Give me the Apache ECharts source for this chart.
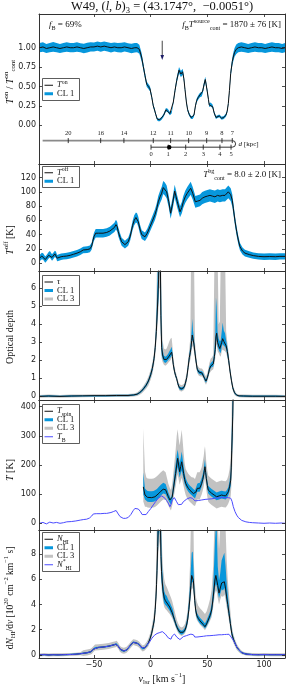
<!DOCTYPE html>
<html><head><meta charset="utf-8">
<script src="https://cdn.jsdelivr.net/npm/echarts@6/dist/echarts.min.js"></script>
<style>html,body{margin:0;padding:0;background:#fff}#c{width:287px;height:688px}</style>
</head><body><div id="c"></div>
<script>
// ---------------- DATA ----------------
// Panel 1: T_on / T_on_cont
const vel1 = [-98,-95,-92,-89,-86,-83,-80,-77,-74,-71,-68,-65,-62,-59,-56,-53,-50,-47,-44,-41,
 -38,-35,-32,-29,-26,-23,-20,-17,-14,-12,-10,-8,-6.5,-5,-3.5,-2,-0.6,1,2.3,3.2,
 4.5,5.8,6.7,8,9.7,11.5,13.5,15,17,18.5,20,21.5,23,25,26.7,28.2,29.3,30.3,31.5,32.6,
 34,35.6,37,38.2,39.5,40.6,42,43.5,45,45.9,47,48.2,49,50,51,51.7,53,54.7,56,57.6,
 59,60.5,62.6,64.5,66.4,67.5,68.5,69.5,70.6,72,72.9,74,75.5,77.3,80,83,86,89,92,95,
 98,101,104,107,110,113,116,118.5];
const tOn = [1.00,1.01,0.99,1.00,1.01,1.00,0.99,1.00,1.01,1.00,
 1.00,1.01,1.00,0.99,1.00,1.01,1.01,1.02,1.01,1.02,
 1.01,1.00,1.01,1.00,1.00,1.01,1.00,0.99,1.00,1.00,
 0.98,0.88,0.76,0.64,0.53,0.50,0.47,0.36,0.25,0.21,
 0.14,0.08,0.07,0.07,0.09,0.13,0.20,0.19,0.15,0.17,
 0.30,0.45,0.58,0.71,0.66,0.69,0.60,0.46,0.30,0.20,
 0.14,0.10,0.10,0.13,0.25,0.32,0.36,0.39,0.40,0.44,
 0.52,0.59,0.52,0.43,0.33,0.26,0.27,0.24,0.16,0.10,
 0.11,0.12,0.09,0.10,0.13,0.18,0.28,0.45,0.67,0.82,
 0.88,0.94,0.98,1.00,1.01,1.00,0.99,1.00,1.01,1.00,
 1.00,0.99,1.00,1.01,1.00,1.00,0.99,1.00];
const tOnErr = [0.06,0.062,0.058,0.06,0.063,0.06,0.058,0.06,0.062,0.06,
 0.06,0.062,0.058,0.06,0.063,0.06,0.058,0.06,0.062,0.06,
 0.06,0.062,0.058,0.06,0.063,0.06,0.058,0.06,0.062,0.06,
 0.058,0.053,0.045,0.040,0.035,0.033,0.032,0.028,0.024,0.022,
 0.020,0.018,0.018,0.018,0.018,0.020,0.022,0.022,0.020,0.020,
 0.025,0.030,0.035,0.040,0.040,0.040,0.036,0.030,0.025,0.022,
 0.020,0.018,0.018,0.020,0.024,0.026,0.028,0.030,0.030,0.032,
 0.034,0.036,0.034,0.030,0.027,0.024,0.024,0.023,0.020,0.018,
 0.018,0.018,0.018,0.018,0.020,0.022,0.026,0.033,0.045,0.052,
 0.055,0.058,0.060,0.060,0.062,0.060,0.058,0.060,0.062,0.060,
 0.060,0.058,0.060,0.062,0.060,0.060,0.058,0.060];

// Kinematic distance axis (velocity of each distance tick)
const farDist = [20,16,14,12,11,10,9,8,7];
const farVel = [-72.7,-44.1,-23.6,2.3,17.6,33.5,49.4,62.9,72.0];
const nearDist = [0,1,2,3,4,5];
const nearVel = [0.3,15.5,30.9,46.4,61.1,70.9];
const farStartVel = -95.3;
const farAxisY = -0.198, nearAxisY = -0.283;
const sourceVel = 16.4;
const arrowVel = 10.2, arrowTop = 1.09, arrowTip = 0.84;

// Panel 2: T_off
const vel2 = [-98,-96,-94.8,-93,-91.8,-90,-88.9,-87,-85.9,-84.5,
 -83.6,-82.5,-81.5,-79,-77,-74,-71,-68,-65,-62,
 -59.5,-56,-53.6,-52,-51.2,-50,-48.5,-46,-44.7,-42,
 -38.8,-36,-34.4,-32,-30.6,-29.5,-28.6,-27,-25.6,-22.7,
 -19.8,-18,-15.9,-14.5,-13,-12,-10.9,-9.5,-7.9,-5,
 -3,-0.6,1.5,3.8,5.3,6.7,8.3,9.7,11.1,12.5,
 14.1,16,17.6,19.4,21.2,23.5,25.9,27.5,28.8,30.5,
 32.3,35.3,37.1,39.4,41.5,43.5,45.5,47.9,50,52.3,
 54.5,56.7,59,61.1,63.5,65.6,68.5,70.6,72,72.9,
 74.5,75.9,77.5,78.8,81,83.2,87,90.5,95,100,
 105,110,114,118.5];
const tOff = [7,10,9.3,5,7,11,12.5,8,10,13,
 12,7,7.5,9,9.5,10,11,12.5,14,16,
 18.5,19,20,24,30,37,42,42,42,42,
 43,45,47,50,54,51,44,36,30,26,
 30,38,53,60,64,63,58,48,40,37,
 42,51,59,68,76,86,93,98,106,104,
 100,86,70,84,101,86,72,78,86,93,
 98,105,98,86,87,88,91,93,94,95,
 94,93,95,94,95,95,100,96,88,77,
 58,44,31,23,17,14,12,10.6,9.5,9,
 9.3,9,9.5,9.5];
const tOffErr = [4.5,4.5,4.5,4.5,4.5,4.5,4.5,4.5,4.5,4.5,
 4.5,4.5,4.5,4.5,4.5,4.5,4.5,4.5,4.5,4.5,
 4.6,4.7,4.8,5,5.3,5.7,6,6,6,6,
 6,6.1,6.3,6.5,6.7,6.6,6.3,5.8,5.5,5.3,
 5.5,6,6.6,7,7.1,7.1,7,6.5,6,5.8,
 6.1,6.6,7,7.4,7.8,8.2,8.5,8.7,9,9,
 8.9,8.3,7.6,8.3,8.9,8.3,7.6,7.9,8.3,8.6,
 8.9,9,8.9,8.3,8.3,8.3,8.6,8.6,8.7,8.7,
 8.7,8.7,8.7,8.7,8.7,8.7,9,8.9,8.6,7.9,
 7.1,6.4,5.8,5.3,5,4.8,4.6,4.5,4.5,4.5,
 4.5,4.5,4.5,4.5];

// Panel 3: optical depth
const vel3 = [-98,-90,-80,-70,-60,-50,-40,-30,-20,-15,
 -12,-10,-8,-6,-4,-2,0,1.5,3,4,
 5,6,7,7.5,8,8.5,9,9.7,10.5,11.7,
 13,14.1,15.3,16.4,17.5,18.5,19.2,19.9,21,22,
 22.9,24,25.3,26.3,27.4,28.4,29.4,30.5,31.8,33,
 34.1,35,35.6,36.2,36.7,37.3,38.2,39.1,40,41.1,
 42.5,44.1,45.2,46.4,47.5,48.8,49.8,50.8,51.8,52.9,
 54,55.2,56.2,57,57.6,58.2,59,60,61,61.8,
 62.7,63.5,64.5,65.6,66.6,67.6,68.8,70,71.2,72.4,
 74,75.9,78,82,90,100,110,118.5];
const tau = [0.00,0.02,0.00,0.02,0.03,0.04,0.04,0.05,0.05,0.08,
 0.12,0.20,0.30,0.45,0.62,0.85,1.20,1.55,2.10,2.70,
 3.60,4.90,6.50,9.00,9.00,8.00,4.50,2.70,2.30,2.05,
 2.00,2.05,2.15,2.24,2.30,2.45,2.20,1.78,1.40,1.15,
 1.00,0.70,0.48,0.44,0.42,0.46,0.50,0.70,1.03,1.60,
 2.15,2.45,2.70,3.10,3.40,3.20,2.90,2.40,1.96,1.50,
 1.35,1.30,1.30,1.20,1.00,0.85,1.00,1.22,1.50,1.68,
 1.75,1.80,2.20,2.60,3.30,3.50,3.00,2.80,2.65,2.60,
 3.00,3.20,3.05,3.00,2.80,2.50,2.00,1.40,0.90,0.48,
 0.20,0.07,0.03,0.02,0.01,0.01,0.01,0.00];
const tauCL1Dn = [0.04,0.04,0.04,0.04,0.04,0.04,0.04,0.04,0.04,0.04,
 0.04,0.05,0.06,0.07,0.08,0.10,0.12,0.14,0.16,0.20,
 0.30,0.50,1.00,2.00,2.00,2.00,1.00,0.40,0.20,0.15,
 0.15,0.15,0.15,0.15,0.15,0.15,0.15,0.12,0.10,0.08,
 0.08,0.08,0.08,0.08,0.08,0.08,0.08,0.10,0.10,0.12,
 0.15,0.15,0.20,0.20,0.25,0.20,0.15,0.15,0.12,0.10,
 0.10,0.10,0.10,0.10,0.10,0.10,0.10,0.10,0.12,0.12,
 0.12,0.15,0.20,0.25,0.30,0.30,0.25,0.20,0.20,0.20,
 0.25,0.30,0.25,0.25,0.20,0.20,0.15,0.12,0.10,0.08,
 0.06,0.04,0.04,0.04,0.04,0.04,0.04,0.04];
const tauCL1Up = [0.04,0.04,0.04,0.04,0.04,0.04,0.04,0.04,0.04,0.04,
 0.04,0.05,0.06,0.07,0.08,0.10,0.12,0.14,0.16,0.20,
 0.60,1.50,3.00,3.00,3.00,3.00,2.50,0.80,0.30,0.20,
 0.20,0.20,0.20,0.25,0.30,0.30,0.25,0.15,0.12,0.08,
 0.08,0.08,0.08,0.08,0.08,0.08,0.08,0.10,0.12,0.15,
 0.20,0.30,0.40,0.60,0.90,0.50,0.30,0.20,0.15,0.10,
 0.10,0.10,0.10,0.10,0.10,0.10,0.10,0.12,0.15,0.15,
 0.15,0.20,0.40,0.80,2.20,1.50,0.60,0.40,0.40,0.50,
 0.60,0.90,0.60,0.50,0.30,0.25,0.20,0.15,0.10,0.08,
 0.06,0.04,0.04,0.04,0.04,0.04,0.04,0.04];
const tauCL3Dn = [0.08,0.08,0.08,0.08,0.08,0.08,0.08,0.08,0.08,0.08,
 0.10,0.12,0.14,0.17,0.20,0.24,0.28,0.32,0.38,0.50,
 0.60,1.00,1.50,3.00,3.00,3.00,1.50,0.60,0.40,0.30,
 0.30,0.30,0.30,0.30,0.30,0.30,0.30,0.25,0.20,0.15,
 0.15,0.15,0.15,0.15,0.15,0.15,0.15,0.20,0.25,0.30,
 0.35,0.40,0.50,0.50,0.60,0.50,0.40,0.35,0.30,0.20,
 0.20,0.20,0.20,0.20,0.20,0.20,0.20,0.20,0.25,0.30,
 0.30,0.30,0.40,0.50,0.60,0.60,0.50,0.40,0.40,0.40,
 0.50,0.60,0.50,0.50,0.40,0.35,0.30,0.25,0.20,0.15,
 0.12,0.08,0.08,0.08,0.08,0.08,0.08,0.08];
const tauCL3Up = [0.08,0.08,0.08,0.08,0.08,0.08,0.08,0.08,0.08,0.08,
 0.10,0.12,0.14,0.17,0.20,0.24,0.28,0.32,0.38,0.50,
 1.50,4.00,5.00,5.00,5.00,5.00,4.00,2.00,0.80,0.60,
 0.60,0.60,0.70,0.80,0.90,0.80,0.60,0.40,0.30,0.20,
 0.20,0.20,0.20,0.20,0.20,0.20,0.20,0.25,0.30,0.40,
 0.50,0.80,5.00,5.00,5.00,5.00,5.00,0.60,0.40,0.25,
 0.25,0.25,0.25,0.25,0.25,0.25,0.25,0.30,0.35,0.40,
 0.40,0.50,5.00,5.00,5.00,5.00,5.00,1.20,1.50,5.00,
 5.00,5.00,5.00,5.00,0.80,0.50,0.40,0.30,0.25,0.20,
 0.15,0.08,0.08,0.08,0.08,0.08,0.08,0.08];

// Panel 4: T_spin and T_B
const velT = [-6.5,-5,-3.8,-2.7,-1,0.9,2.5,3.8,5.5,7.3,
 9,11.1,13.2,15.6,17,17.9,19,19.9,21,22,
 23,23.8,24.7,25.6,26.5,27.4,28.3,29.1,30,30.9,
 32,33.2,34.7,36.2,37.7,39.1,40.1,41.1,42.2,43.2,
 44.1,45,45.9,46.8,47.4,47.9,48.5,49.1,50,50.8,
 52.3,53.8,56,58.2,60.4,62.6,64.4,66.2,67.4,68.5,
 69.6,70.6,71.1,71.5,72,72.4,72.8];
const tSpin = [125,97,92,89,88,88,89,91,96,103,
 110,117,115,91,80,74,90,114,145,171,
 200,223,200,177,195,211,190,171,150,137,
 128,120,113,108,102,97,108,120,120,120,
 128,137,150,166,182,194,175,154,130,114,
 108,103,97,91,94,97,95,94,100,108,
 125,148,190,251,310,365,440];
const tSpinCL1Dn = [25,15,15,15,15,15,15,15,15,15,
 15,15,15,12,10,10,12,15,18,20,
 25,30,25,20,25,30,25,20,15,12,
 12,12,12,12,12,12,12,12,12,12,
 12,12,12,12,15,15,15,12,12,12,
 12,12,12,12,12,12,12,12,12,12,
 15,20,30,40,50,60,60];
const tSpinCL1Up = [50,22,22,22,22,22,22,22,22,22,
 22,22,20,15,12,12,15,20,25,30,
 35,30,30,30,30,35,30,25,20,18,
 16,16,16,16,16,16,16,16,18,18,
 18,18,18,20,22,25,20,18,16,15,
 15,15,15,15,15,15,15,15,15,16,
 20,30,40,60,80,100,100];
const tSpinCL3Dn = [50,40,35,35,35,35,35,35,35,35,
 35,35,35,30,30,30,30,35,40,45,
 50,55,50,45,50,55,50,45,40,40,
 40,40,40,40,40,38,38,38,38,38,
 38,38,38,40,40,40,40,40,40,40,
 40,40,40,40,40,40,40,40,40,40,
 45,55,70,90,110,130,150];
const tSpinCL3Up = [200,80,65,65,65,65,65,65,65,65,
 65,65,60,45,40,40,45,55,65,80,
 100,100,90,90,100,110,90,70,55,50,
 50,50,50,50,55,55,55,55,55,55,
 55,55,60,65,70,70,65,55,50,50,
 50,50,50,50,50,50,50,50,50,55,
 60,80,100,150,200,250,250];
const velTB = [-98,-95,-92,-89,-86,-83,-80,-77,-74,-70,
 -66,-62,-59,-56.5,-54,-52,-50.6,-48,-44,-41,
 -38.8,-35,-33,-31.5,-30.5,-29.5,-28.6,-27,-25.5,-24.2,
 -22,-19.8,-17.5,-15.5,-13.9,-12.5,-10.9,-9,-7.5,-5.9,
 -4,-2.1,0,2.3,4.5,6.7,8.3,9.7,11,12.6,
 14.1,15.6,17,18,19.1,20.9,22,22.9,24.4,25.9,
 27.3,28.8,30.3,31.8,33.3,34.7,36.7,38,39.1,40.5,
 42,45,48,51,54,56.7,59.5,62.6,65.5,68.5,
 70.6,71.8,72.9,74.4,75.9,77.3,78.8,80.3,81.7,84,
 87,90,95,100,105,110,115,118.5];
const tB = [0,3,-2,4,1,3,0,2,5,6,
 8,11,13,14,18,25,32,33,33,34,
 34,37,40,43,44,40,32,23,18,17,
 17,20,30,43,51,53,49,40,30,25,
 30,40,50,63,75,86,91,94,92,86,
 78,69,57,65,80,88,83,74,64,59,
 65,74,79,83,86,88,86,81,77,77,
 78,80,82,83,84,86,87,88,88,88,
 86,75,57,40,28,20,14,10,8,5,
 3,2,1,0,1,0,1,0];

// Panel 5: dN_HI/dv [1e20 cm^-2 km^-1 s]
const velN = [-98,-94,-90,-86,-82,-78,-74,-70,-66,-62,
 -59.5,-56,-53,-52,-50.5,-49.1,-46,-41.8,-37,-33,
 -31,-30,-28.5,-27.1,-25.5,-23.6,-21.5,-19.8,-17.5,-15.4,
 -13.9,-11.8,-10,-8.5,-7.1,-5.5,-3.5,-2.1,-0.5,0.9,
 2,3.2,4,4.7,5.2,5.6,6.2,6.8,7.5,8.2,
 8.7,9.1,9.6,10.3,11,12,13,14.1,15.6,16.8,
 17.9,19,19.9,21,22,23.2,24.4,25.8,27.4,28.8,
 30.3,31.5,32.6,33.7,34.7,35.5,36.2,37.1,37.7,38.2,
 38.9,39.7,40.8,42,43.5,45,46.5,47.9,49.3,50.8,
 52.3,53.8,55.2,56.7,57.5,58.2,59.2,60.3,61.4,62.6,
 63.8,65,66,67,68,69.1,70.3,71.5,73,74.4,
 76,77.9,79.8,81.7,85,90,95,100,105,110,
 118.5];
const nHI = [0.00,0.03,0.00,0.02,0.01,0.02,0.03,0.04,0.06,0.10,
 0.13,0.18,0.25,0.30,0.45,0.58,0.60,0.63,0.70,0.79,
 0.84,0.87,0.70,0.47,0.36,0.32,0.38,0.53,0.80,1.00,
 0.98,0.92,0.80,0.62,0.50,0.55,0.75,0.93,1.30,1.72,
 2.20,2.77,3.60,4.60,5.60,6.70,8.60,10.5,12.0,11.5,
 10.0,7.80,6.60,5.70,5.00,4.50,4.30,4.20,3.96,3.80,
 3.56,3.35,3.09,2.80,2.50,2.20,1.98,1.80,1.72,1.80,
 1.98,2.30,2.77,3.60,4.60,5.50,6.30,6.40,5.90,5.15,
 4.30,3.56,3.10,2.90,2.70,2.56,2.40,2.24,2.45,2.77,
 3.10,3.56,4.60,5.94,6.30,6.20,5.50,4.90,5.30,5.70,
 5.60,5.80,5.30,4.60,4.00,3.30,2.50,1.72,1.25,0.93,
 0.62,0.40,0.22,0.13,0.06,0.03,0.02,0.03,0.02,0.02,
 0.02];
const nStar = [0.00,0.03,0.00,0.02,0.01,0.02,0.03,0.04,0.06,0.10,
 0.13,0.18,0.25,0.30,0.45,0.58,0.60,0.63,0.70,0.79,
 0.84,0.87,0.70,0.47,0.36,0.32,0.38,0.53,0.80,1.00,
 0.98,0.92,0.80,0.62,0.50,0.55,0.75,0.90,1.10,1.30,
 1.45,1.55,1.60,1.65,1.68,1.70,1.72,1.74,1.76,1.78,
 1.80,1.82,1.84,1.85,1.82,1.75,1.65,1.55,1.35,1.20,
 1.25,1.50,1.60,1.66,1.58,1.40,1.28,1.22,1.35,1.45,
 1.50,1.53,1.56,1.60,1.62,1.65,1.68,1.66,1.60,1.52,
 1.42,1.38,1.42,1.45,1.45,1.46,1.48,1.50,1.52,1.53,
 1.53,1.55,1.55,1.56,1.57,1.58,1.58,1.60,1.60,1.60,
 1.60,1.62,1.62,1.63,1.64,1.64,1.55,1.35,1.15,0.93,
 0.62,0.40,0.22,0.13,0.06,0.03,0.02,0.03,0.02,0.02,
 0.02];
const nCL1Dn = [0.05,0.05,0.05,0.05,0.05,0.05,0.05,0.05,0.05,0.05,
 0.06,0.06,0.06,0.06,0.06,0.06,0.06,0.06,0.06,0.06,
 0.06,0.06,0.06,0.06,0.06,0.06,0.06,0.06,0.06,0.06,
 0.06,0.06,0.06,0.06,0.06,0.06,0.07,0.08,0.10,0.12,
 0.15,0.20,0.30,0.40,0.60,0.80,1.20,1.50,2.00,2.00,
 1.50,1.20,0.80,0.60,0.50,0.40,0.35,0.35,0.30,0.30,
 0.30,0.25,0.25,0.20,0.20,0.15,0.15,0.12,0.12,0.12,
 0.15,0.20,0.25,0.30,0.40,0.50,0.60,0.60,0.50,0.40,
 0.30,0.25,0.20,0.20,0.20,0.18,0.15,0.15,0.18,0.20,
 0.25,0.30,0.40,0.60,0.70,0.70,0.50,0.40,0.45,0.50,
 0.50,0.50,0.45,0.40,0.35,0.30,0.25,0.20,0.12,0.10,
 0.08,0.06,0.06,0.06,0.06,0.05,0.05,0.05,0.05,0.05,
 0.05];
const nCL1Up = [0.05,0.05,0.05,0.05,0.05,0.05,0.05,0.05,0.05,0.05,
 0.06,0.06,0.06,0.06,0.06,0.06,0.06,0.06,0.06,0.06,
 0.06,0.06,0.06,0.06,0.06,0.06,0.06,0.06,0.06,0.06,
 0.06,0.06,0.06,0.06,0.06,0.06,0.08,0.10,0.12,0.15,
 0.18,0.25,0.35,0.50,0.70,1.00,3.00,3.00,3.00,3.00,
 3.00,3.00,1.50,1.00,0.70,0.55,0.50,0.50,0.40,0.40,
 0.40,0.40,0.40,0.20,0.20,0.20,0.20,0.20,0.20,0.20,
 0.20,0.30,0.40,0.60,0.90,1.40,1.80,1.80,1.20,0.70,
 0.40,0.25,0.25,0.25,0.25,0.25,0.25,0.25,0.30,0.30,
 0.30,0.45,0.80,3.00,4.00,4.00,1.50,1.00,1.20,1.80,
 2.20,2.30,1.80,1.20,0.80,0.50,0.35,0.25,0.15,0.12,
 0.08,0.06,0.06,0.06,0.06,0.05,0.05,0.05,0.05,0.05,
 0.05];
const nCL3Dn = [0.12,0.12,0.12,0.12,0.12,0.12,0.12,0.12,0.12,0.12,
 0.22,0.22,0.22,0.22,0.22,0.22,0.22,0.22,0.22,0.22,
 0.22,0.22,0.22,0.22,0.22,0.22,0.22,0.22,0.22,0.22,
 0.22,0.22,0.22,0.22,0.22,0.22,0.22,0.25,0.30,0.35,
 0.40,0.50,0.60,0.80,1.00,1.30,1.80,2.50,3.00,3.00,
 2.50,1.80,1.30,1.00,0.80,0.70,0.65,0.65,0.60,0.55,
 0.50,0.45,0.40,0.35,0.30,0.28,0.25,0.22,0.22,0.22,
 0.25,0.30,0.40,0.50,0.70,0.90,1.10,1.10,0.90,0.70,
 0.55,0.45,0.35,0.30,0.30,0.30,0.28,0.28,0.30,0.35,
 0.40,0.55,0.80,1.10,1.20,1.20,1.00,0.90,0.90,1.00,
 1.00,1.00,0.90,0.80,0.70,0.60,0.45,0.35,0.30,0.25,
 0.22,0.18,0.15,0.12,0.12,0.12,0.12,0.12,0.12,0.12,
 0.12];
const nCL3Up = [0.12,0.12,0.12,0.12,0.12,0.12,0.12,0.12,0.12,0.12,
 0.25,0.25,0.25,0.25,0.25,0.25,0.25,0.25,0.25,0.25,
 0.25,0.25,0.25,0.25,0.25,0.25,0.25,0.25,0.25,0.25,
 0.25,0.25,0.25,0.25,0.25,0.25,0.30,0.35,0.40,0.50,
 0.60,0.80,1.20,2.00,4.00,6.00,6.00,6.00,6.00,6.00,
 6.00,6.00,3.00,2.20,1.80,1.50,1.30,1.20,1.10,1.00,
 1.00,0.90,0.85,0.75,0.65,0.55,0.50,0.45,0.45,0.45,
 0.50,0.60,0.80,1.20,2.50,5.00,6.00,6.00,5.00,2.00,
 1.50,1.20,1.10,1.00,1.00,1.00,1.00,1.00,1.00,1.10,
 1.30,1.60,2.50,6.00,6.00,6.00,5.00,3.50,5.00,6.00,
 6.00,6.00,5.00,3.00,2.00,1.50,1.00,0.60,0.40,0.30,
 0.25,0.20,0.15,0.12,0.12,0.12,0.12,0.12,0.12,0.12,
 0.12];

// Tick labels
const xTickVals = [-50,0,50,100];
const yTickVals = [[0,0.25,0.5,0.75,1],[0,20,40,60,80,100,120],[0,1,2,3,4,5,6],[0,100,200,300,400],[0,2,4,6,8]];

// ---------------- LAYOUT / STYLE ----------------
const XMIN=-98.5, XMAX=118.5;
const grids=[{top:14,height:150},{top:164,height:107},{top:271,height:129},{top:400,height:130},{top:530,height:128}];
const yRanges=[[-0.5,1.435],[-11,139],[-0.2,6.95],[-23,423],[-0.24,9.9]];
const BLUE='#0797dc', GRAY='#c2c2c2', BLACK='#111', VIOLET='#4b4bff';
const SERIF='"Liberation Serif","DejaVu Serif",serif';
const SANS='"DejaVu Sans",sans-serif';

function R(fs){
  const s=Math.round(fs*0.68*10)/10;
  return {
    n:{fontSize:fs,fontFamily:SERIF,fill:'#111',lineHeight:fs+4,verticalAlign:'middle'},
    i:{fontSize:fs,fontFamily:SERIF,fontStyle:'italic',fill:'#111',lineHeight:fs+4,verticalAlign:'middle'},
    sup:{fontSize:s,fontFamily:SERIF,fill:'#111',lineHeight:s,verticalAlign:'top'},
    sub:{fontSize:s,fontFamily:SERIF,fill:'#111',lineHeight:s,verticalAlign:'bottom'}
  };
}
function lo(c,d){return c.map((y,i)=>y-d[i]);}
function hi(c,d){return c.map((y,i)=>y+d[i]);}

const xAxis=[], yAxis=[];
grids.forEach((gd,g)=>{
  const tick={show:true,inside:true,length:3,lineStyle:{color:'#222',width:0.8}};
  const line={show:true,onZero:false,lineStyle:{color:'#333',width:1}};
  xAxis.push({type:'value',gridIndex:g,position:'bottom',min:XMIN,max:XMAX,z:10,splitLine:{show:false},
    axisLine:line,axisTick:Object.assign({customValues:xTickVals},tick),
    axisLabel:{show:g===4,customValues:xTickVals,formatter:v=>v<0?'\u2212'+Math.abs(v):String(v),
      fontSize:8,fontFamily:SANS,color:'#222',margin:3}});
  xAxis.push({type:'value',gridIndex:g,position:'top',min:XMIN,max:XMAX,z:10,splitLine:{show:false},
    axisLine:line,axisTick:Object.assign({customValues:xTickVals},tick),axisLabel:{show:false}});
  yAxis.push({type:'value',gridIndex:g,position:'left',min:yRanges[g][0],max:yRanges[g][1],z:10,splitLine:{show:false},
    axisLine:line,axisTick:Object.assign({customValues:yTickVals[g]},tick),
    axisLabel:{show:true,customValues:yTickVals[g],formatter:v=>g===0?Number(v).toFixed(2):String(v),
      fontSize:8,fontFamily:SANS,color:'#222',margin:3}});
  yAxis.push({type:'value',gridIndex:g,position:'right',min:yRanges[g][0],max:yRanges[g][1],z:10,splitLine:{show:false},
    axisLine:line,axisTick:Object.assign({customValues:yTickVals[g]},tick),axisLabel:{show:false}});
});

function bandS(g,vel,l,h,color){
  return {type:'custom',xAxisIndex:2*g,yAxisIndex:2*g,clip:true,silent:true,animation:false,data:[[0,0]],z:2,
    renderItem:(p,api)=>{
      const pts=[];
      for(let i=0;i<vel.length;i++) pts.push(api.coord([vel[i],l[i]]));
      for(let i=vel.length-1;i>=0;i--) pts.push(api.coord([vel[i],h[i]]));
      return {type:'polygon',shape:{points:pts},style:{fill:color}};
    }};
}
function lineS(g,vel,vals,color,w){
  return {type:'line',xAxisIndex:2*g,yAxisIndex:2*g,data:vel.map((v,i)=>[v,vals[i]]),
    showSymbol:false,symbol:'none',silent:true,animation:false,clip:true,z:3,
    lineStyle:{color:color,width:w}};
}

const distanceAxis={type:'custom',xAxisIndex:0,yAxisIndex:0,clip:false,silent:true,animation:false,data:[[0,0]],z:5,
  renderItem:(p,api)=>{
    const ch=[];
    const f0=api.coord([farStartVel,farAxisY]), f1=api.coord([farVel[farVel.length-1],farAxisY]);
    ch.push({type:'line',shape:{x1:f0[0],y1:f0[1],x2:f1[0],y2:f1[1]},style:{stroke:'#8a8a8a',lineWidth:1.6}});
    farVel.forEach((v,i)=>{
      const c=api.coord([v,farAxisY]);
      ch.push({type:'line',shape:{x1:c[0],y1:c[1]-2.5,x2:c[0],y2:c[1]+2.5},style:{stroke:'#222',lineWidth:0.9}});
      ch.push({type:'text',x:c[0],y:c[1]-7,style:{text:String(farDist[i]),fill:'#222',fontSize:6.5,fontFamily:SERIF,align:'center',verticalAlign:'middle'}});
    });
    const n0=api.coord([nearVel[0],nearAxisY]);
    ch.push({type:'line',shape:{x1:n0[0],y1:n0[1],x2:f1[0],y2:n0[1]},style:{stroke:'#333',lineWidth:1}});
    nearVel.forEach((v,i)=>{
      const c=api.coord([v,nearAxisY]);
      ch.push({type:'line',shape:{x1:c[0],y1:c[1]-2.5,x2:c[0],y2:c[1]+2.5},style:{stroke:'#222',lineWidth:0.9}});
      ch.push({type:'text',x:c[0],y:c[1]+7,style:{text:String(nearDist[i]),fill:'#222',fontSize:6.5,fontFamily:SERIF,align:'center',verticalAlign:'middle'}});
    });
    const cy=(f1[1]+n0[1])/2, r=(n0[1]-f1[1])/2;
    ch.push({type:'arc',shape:{cx:f1[0],cy:cy,r:r,startAngle:-Math.PI/2,endAngle:Math.PI/2,clockwise:true},style:{stroke:'#333',fill:null,lineWidth:1}});
    ch.push({type:'text',x:f1[0]+r+3,y:cy,style:{text:'{i|d}{n| [kpc]}',rich:R(7),align:'left',verticalAlign:'middle'}});
    const d=api.coord([sourceVel,nearAxisY]);
    ch.push({type:'circle',shape:{cx:d[0],cy:d[1],r:2.2},style:{fill:'#000'}});
    const a0=api.coord([arrowVel,arrowTop]), a1=api.coord([arrowVel,arrowTip]);
    ch.push({type:'line',shape:{x1:a0[0],y1:a0[1],x2:a1[0],y2:a1[1]-4},style:{stroke:'#444',lineWidth:1}});
    ch.push({type:'polygon',shape:{points:[[a1[0]-1.8,a1[1]-5],[a1[0]+1.8,a1[1]-5],[a1[0],a1[1]]]},style:{fill:'#1c1c66'}});
    return {type:'group',children:ch};
  }};

const series=[
  bandS(0,vel1,lo(tOn,tOnErr),hi(tOn,tOnErr),BLUE),
  lineS(0,vel1,tOn,BLACK,1),
  distanceAxis,
  bandS(1,vel2,lo(tOff,tOffErr),hi(tOff,tOffErr),BLUE),
  lineS(1,vel2,tOff,BLACK,1),
  bandS(2,vel3,lo(tau,tauCL3Dn),hi(tau,tauCL3Up),GRAY),
  bandS(2,vel3,lo(tau,tauCL1Dn),hi(tau,tauCL1Up),BLUE),
  lineS(2,vel3,tau,BLACK,1),
  bandS(3,velT,lo(tSpin,tSpinCL3Dn),hi(tSpin,tSpinCL3Up),GRAY),
  bandS(3,velT,lo(tSpin,tSpinCL1Dn),hi(tSpin,tSpinCL1Up),BLUE),
  lineS(3,velT,tSpin,BLACK,1),
  lineS(3,velTB,tB,VIOLET,1),
  bandS(4,velN,lo(nHI,nCL3Dn),hi(nHI,nCL3Up),GRAY),
  bandS(4,velN,lo(nHI,nCL1Dn),hi(nHI,nCL1Up),BLUE),
  lineS(4,velN,nHI,BLACK,1),
  lineS(4,velN,nStar,VIOLET,1)
];

// ---------------- TEXT / LEGENDS ----------------
function legendBox(top,height,entries){
  const els=[{type:'rect',shape:{x:42.5,y:top+0.5,width:37,height:height},style:{fill:'#fff',stroke:'#333',lineWidth:0.8},z:100}];
  const step=8.5, y0=top+0.5+height/2-(entries.length-1)*step/2;
  entries.forEach((e,k)=>{
    const y=y0+k*step;
    els.push({type:'line',shape:{x1:44.5,y1:y,x2:53,y2:y},style:{stroke:e.c,lineWidth:e.w},z:101});
    els.push({type:'text',x:57,y:y,style:{text:e.t,rich:R(8.5),align:'left',verticalAlign:'middle'},z:101});
  });
  return els;
}
const L_CL1={t:'{n|CL 1}',c:BLUE,w:3}, L_CL3={t:'{n|CL 3}',c:GRAY,w:3};
const graphics=[].concat(
  legendBox(78,22,[{t:'{i|T}{sup|on}',c:BLACK,w:1},L_CL1]),
  legendBox(166,21,[{t:'{i|T}{sup|off}',c:BLACK,w:1},L_CL1]),
  legendBox(275,30,[{t:'{i|\u03c4}',c:BLACK,w:1},L_CL1,L_CL3]),
  legendBox(404,39,[{t:'{i|T}{sub|spin}',c:BLACK,w:1},L_CL1,L_CL3,{t:'{i|T}{sub|B}',c:VIOLET,w:1}]),
  legendBox(532,39,[{t:'{i|N}{sub|HI}',c:BLACK,w:1},L_CL1,L_CL3,{t:'{i|N}{sup|*}{sub|HI}',c:VIOLET,w:1}]),
  [
    {type:'text',x:162,y:7,z:100,style:{text:'{n|W49, (}{i|l}{n|, }{i|b}{n|)}{sub|3}{n| = (43.1747\u00b0,  \u22120.0051\u00b0)}',rich:R(12.5),align:'center',verticalAlign:'middle'}},
    {type:'text',x:49,y:25,z:100,style:{text:'{i|f}{sub|B}{n| = 69%}',rich:R(9),align:'left',verticalAlign:'middle'}},
    {type:'text',x:281,y:25,z:100,style:{text:'{i|f}{sub|B}{i|T}{sup|source}{sub|cont}{n| = 1870 \u00b1 76 [K]}',rich:R(9),align:'right',verticalAlign:'middle'}},
    {type:'text',x:281,y:175,z:100,style:{text:'{i|T}{sup|bg}{sub|cont}{n| = 8.0 \u00b1 2.0 [K]}',rich:R(9),align:'right',verticalAlign:'middle'}},
    {type:'text',x:10,y:82,rotation:Math.PI/2,z:100,style:{text:'{i|T}{sup|on}{n| / }{i|T}{sup|on}{sub|cont}',rich:R(10),align:'center',verticalAlign:'middle'}},
    {type:'text',x:10,y:240,rotation:Math.PI/2,z:100,style:{text:'{i|T}{sup|off}{n| [K]}',rich:R(10),align:'center',verticalAlign:'middle'}},
    {type:'text',x:10,y:337,rotation:Math.PI/2,z:100,style:{text:'{n|Optical depth}',rich:R(10),align:'center',verticalAlign:'middle'}},
    {type:'text',x:10,y:470,rotation:Math.PI/2,z:100,style:{text:'{i|T}{n| [K]}',rich:R(10),align:'center',verticalAlign:'middle'}},
    {type:'text',x:10,y:598,rotation:Math.PI/2,z:100,style:{text:'{n|d}{i|N}{sub|HI}{n|/d}{i|v}{n| [10}{sup|20}{n| cm}{sup|\u22122}{n| km}{sup|\u22121}{n| s]}',rich:R(9.5),align:'center',verticalAlign:'middle'}},
    {type:'text',x:162,y:679,z:100,style:{text:'{i|v}{sub|lsr}{n| [km s}{sup|\u22121}{n|]}',rich:R(10),align:'center',verticalAlign:'middle'}}
  ]
);

const chart=echarts.init(document.getElementById('c'),null,{renderer:'canvas',width:287,height:688});
chart.setOption({
  animation:false,
  backgroundColor:'#fff',
  grid:grids.map(g=>({left:39,width:246,top:g.top,height:g.height,show:false,containLabel:false})),
  xAxis:xAxis,yAxis:yAxis,series:series,
  graphic:{elements:graphics}
});
</script></body></html>
